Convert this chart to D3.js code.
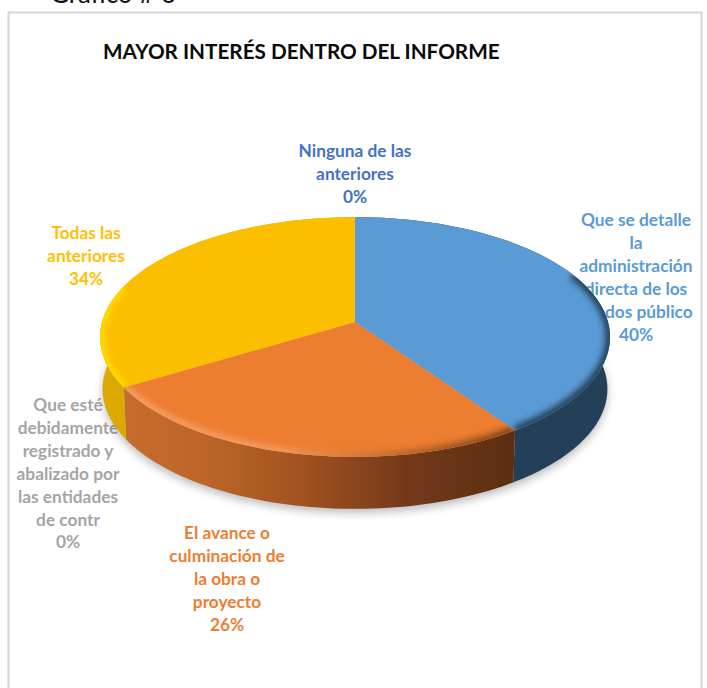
<!DOCTYPE html>
<html><head><meta charset="utf-8">
<script src="https://cdn.jsdelivr.net/npm/d3@7/dist/d3.min.js"></script>
<style>html,body{margin:0;padding:0;background:#fff;overflow:hidden}svg{display:block}text{font-family:Lato,"Open Sans",sans-serif}</style>
</head><body><svg id="c" width="707" height="688"></svg>
<script>
const categories = ["Que se detalle la administración directa de los fondos público","El avance o culminación de la obra o proyecto","Que esté debidamente registrado y abalizado por las entidades de contr","Todas las anteriores","Ninguna de las anteriores"];
const values = [40.4,25.9,0,33.7,0];
const labelLines = [["Que se detalle","la","administración","directa de los","fondos público"],["El avance o","culminación de","la obra o","proyecto"],["Que esté","debidamente","registrado y","abalizado por","las entidades","de contr"],["Todas las","anteriores"],["Ninguna de las","anteriores"]];
const labelColors = ["#5b9bd5","#ed7d31","#a5a5a5","#ffc000","#4472c4"];
const faceColors = ["#5b9bd5","#ed7d31","#a5a5a5","#fcbf00","#4472c4"];
const labelPos = [[636,220],[227,533],[68,405],[86,233],[355,151]];

const svg = d3.select("#c");
const W=253,H=118,K=0.125,CX=355,CY=322,DEPTH=52;
const proj=(t,d=0)=>{const u=Math.sin(t),v=-Math.cos(t),s=1/(1-K*v),sh=d?0.99:1;return [CX+W*u*s*sh,CY+H*v*s+d];};
const arcs=d3.pie().sort(null).value(d=>d)(values);
const samples=(a,b,d=0)=>d3.range(0,61).map(i=>proj(a+(b-a)*i/60,d));
const line=d3.line();
const defs=svg.append("defs");
defs.append("filter").attr("id","blur5").attr("x","-20%").attr("y","-20%").attr("width","140%").attr("height","140%").append("feGaussianBlur").attr("stdDeviation",5);
defs.append("filter").attr("id","blur3").attr("x","-20%").attr("y","-20%").attr("width","140%").attr("height","140%").append("feGaussianBlur").attr("stdDeviation",3);
const grad=(id,stops)=>{const g=defs.append("linearGradient").attr("id",id).attr("gradientUnits","userSpaceOnUse").attr("x1",100).attr("x2",610).attr("y1",0).attr("y2",0);stops.forEach(s=>g.append("stop").attr("offset",s[0]).attr("stop-color",s[1]));};
grad("sideO",[[0,"#c96e2c"],[0.2,"#bd662a"],[0.4,"#a0521f"],[0.6,"#75391a"],[0.8,"#5d2f12"],[1,"#5d2f12"]]);
grad("rimO",[[0,"#f6a268"],[0.35,"#f49a5c"],[0.55,"#c87030"],[0.8,"#7a3f14"],[1,"#7a3f14"]]);
const sideFill=["#243f58","url(#sideO)","#888","#dca900","#243f58"];
const rimStroke=["#223c55","url(#rimO)","#888","#ffdc00","#223c55"];
const rimFrom=65*Math.PI/180, rimTo=288*Math.PI/180;

// frame and heading
svg.append("rect").attr("x",8.5).attr("y",12.5).attr("width",693).attr("height",690).attr("fill","#fff").attr("stroke","#d9d9d9").attr("stroke-width",2.2);
svg.append("text").attr("x",50).attr("y",3).attr("font-size",26).attr("fill","#111").text("Gráfico # 6");
svg.append("text").attr("x",103).attr("y",59).attr("font-size",20.7).attr("font-weight",700).attr("fill","#0a0a0a").text("MAYOR INTERÉS DENTRO DEL INFORME");

// data labels (sit behind the pie)
const lh=22.9;
const lab=svg.append("g").attr("text-anchor","middle").attr("font-size",17.3).attr("font-weight",700);
categories.forEach((c,i)=>{
  const g=lab.append("g").attr("fill",labelColors[i]);
  const ls=labelLines[i].concat([Math.round(values[i])+"%"]);
  ls.forEach((t,j)=>g.append("text").attr("x",labelPos[i][0]).attr("y",labelPos[i][1]+j*lh+6).text(t));
});

// shadow
svg.append("path").attr("d",line(samples(0,2*Math.PI,DEPTH+4))+"Z").attr("fill","#000").attr("opacity",0.27).attr("filter","url(#blur5)");

// sides
arcs.forEach((a,i)=>{ if(a.endAngle<=a.startAngle) return;
  const top=samples(a.startAngle,a.endAngle),bot=samples(a.startAngle,a.endAngle,DEPTH).reverse();
  svg.append("path").attr("d",line(top.concat(bot))+"Z").attr("fill",sideFill[i]);
});

// faces with bevel
arcs.forEach((a,i)=>{ if(a.endAngle<=a.startAngle) return;
  const rim=samples(a.startAngle,a.endAngle);
  const d=line([[CX,CY]].concat(rim))+"Z";
  defs.append("clipPath").attr("id","cf"+i).append("path").attr("d",d);
  svg.append("path").attr("d",d).attr("fill",faceColors[i]);
  const from=Math.max(a.startAngle,rimFrom),to=Math.min(a.endAngle,rimTo);
  svg.append("g").attr("clip-path","url(#cf"+i+")").append("path").attr("d",line(samples(from,to))).attr("fill","none").attr("stroke",rimStroke[i]).attr("stroke-width",9).attr("filter","url(#blur3)");
});
</script></body></html>
